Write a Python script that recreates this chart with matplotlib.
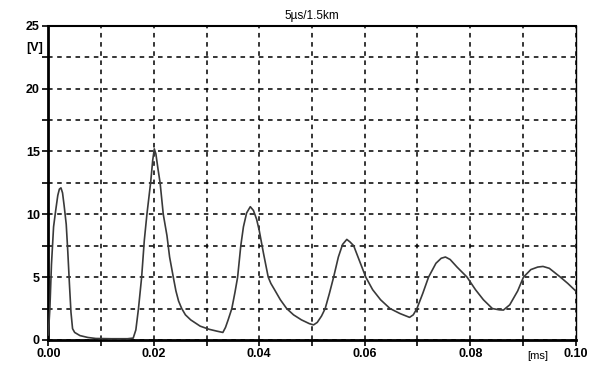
import matplotlib.pyplot as plt
from matplotlib.ticker import MultipleLocator, FormatStrFormatter

plt.rcParams["font.family"] = ["Liberation Sans", "DejaVu Sans"]

# surge voltage at the line end
time_ms = [
    0.0000, 0.0003, 0.0006, 0.0010, 0.0014, 0.0018, 0.0021, 0.0024, 0.0027, 0.0030,
    0.0034, 0.0037, 0.0040, 0.0043, 0.0046, 0.0050, 0.0060, 0.0075, 0.0090, 0.0120,
    0.0150, 0.0161, 0.0166, 0.0171, 0.0177, 0.0182, 0.0187, 0.0194, 0.0198,
    0.0201, 0.0204, 0.0208, 0.0212, 0.0218, 0.0225, 0.0230, 0.0237,
    0.0242, 0.0247, 0.0253, 0.0260, 0.0270, 0.0288, 0.0305, 0.0320, 0.0331, 0.0336,
    0.0341, 0.0348, 0.0354, 0.0359, 0.0365, 0.0370, 0.0376, 0.0383, 0.0389, 0.0395,
    0.0400, 0.0408, 0.0417, 0.0422, 0.0429, 0.0440, 0.0452, 0.0465, 0.0480, 0.0495,
    0.0503, 0.0510, 0.0518, 0.0525, 0.0533, 0.0541, 0.0550, 0.0558, 0.0566, 0.0572,
    0.0579, 0.0590, 0.0602, 0.0615, 0.0630, 0.0648, 0.0667, 0.0685, 0.0692, 0.0699,
    0.0710, 0.0721, 0.0735, 0.0745, 0.0753, 0.0762, 0.0775, 0.0794, 0.0810, 0.0825,
    0.0842, 0.0855, 0.0863, 0.0875, 0.0890, 0.0901, 0.0915, 0.0928, 0.0938, 0.0950,
    0.0962, 0.0971, 0.0985, 0.1000,
]
voltage = [
    0.4, 2.5, 6.0, 9.0, 10.3, 11.5, 12.0, 12.1, 11.7, 10.7,
    9.2, 7.0, 4.5, 2.2, 0.9, 0.6, 0.35, 0.2, 0.12, 0.1,
    0.1, 0.15, 0.8, 2.5, 5.0, 7.9, 10.0, 12.5, 14.3,
    15.2, 14.8, 13.6, 12.5, 10.0, 8.3, 6.6, 5.0,
    3.9, 3.1, 2.5, 2.0, 1.6, 1.1, 0.85, 0.7, 0.6, 1.0,
    1.6, 2.5, 3.8, 5.0, 7.5, 9.0, 10.1, 10.6, 10.3, 9.6,
    8.7, 6.9, 5.0, 4.5, 4.0, 3.2, 2.5, 2.0, 1.6, 1.3,
    1.2, 1.4, 1.9, 2.5, 3.7, 5.0, 6.6, 7.6, 8.0, 7.8,
    7.5, 6.3, 5.0, 4.0, 3.2, 2.5, 2.1, 1.8, 2.0, 2.5,
    3.7, 5.0, 6.1, 6.5, 6.6, 6.4, 5.8, 5.0, 4.0, 3.2,
    2.5, 2.4, 2.38, 2.8, 3.9, 5.0, 5.6, 5.8, 5.85, 5.7,
    5.3, 5.0, 4.5, 3.9,
]

fig = plt.figure(figsize=(5.97, 3.67), dpi=100)
ax = fig.add_axes([0.0809, 0.0736, 0.8834, 0.8565])

ax.plot(time_ms, voltage, color="#3a3a3a", lw=1.2, zorder=3)

ax.set_xlim(0, 0.10)
ax.set_ylim(0, 25)
ax.xaxis.set_major_locator(MultipleLocator(0.02))
ax.xaxis.set_minor_locator(MultipleLocator(0.01))
ax.yaxis.set_major_locator(MultipleLocator(5))
ax.yaxis.set_minor_locator(MultipleLocator(2.5))
ax.xaxis.set_major_formatter(FormatStrFormatter("%.2f"))
ax.yaxis.set_major_formatter(FormatStrFormatter("%d"))

grid_style = dict(color="black", linestyle=(0, (3, 3)), linewidth=1.1)
ax.grid(True, which="both", **grid_style)
ax.set_axisbelow(True)

ax.tick_params(which="both", direction="out", length=4, width=1.2, color="black")
ax.tick_params(axis="both", which="major", labelsize=9, pad=2)
for lbl in ax.get_xticklabels() + ax.get_yticklabels():
    lbl.set_fontweight("bold")

ax.spines["left"].set_linewidth(2.0)
ax.spines["bottom"].set_linewidth(2.0)
ax.spines["top"].set_linewidth(1.5)
ax.spines["right"].set_linewidth(1.0)

ax.set_title("5\u00b5s/1.5km", fontsize=8.5, pad=5)
fig.text(26 / 597, 1 - 48 / 367, "[V]", fontsize=9, fontweight="bold",
         ha="left", va="center")
fig.text(538 / 597, 1 - 356 / 367, "[ms]", fontsize=8,
         ha="center", va="center")

fig.savefig("out.png", dpi=100)
